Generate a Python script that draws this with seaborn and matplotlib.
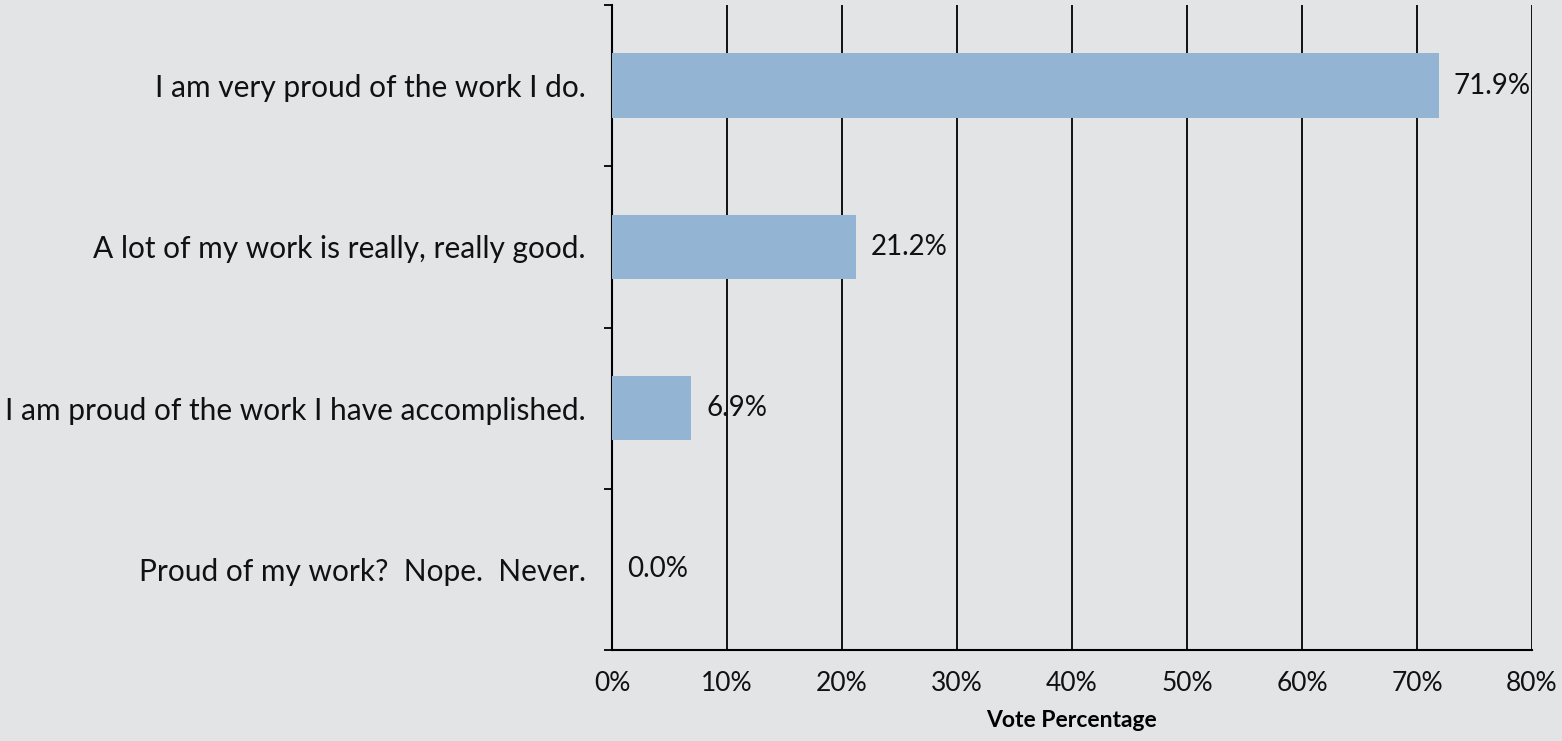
import matplotlib
matplotlib.use("Agg")
import matplotlib.pyplot as plt
import seaborn as sns
import pandas as pd
from matplotlib.ticker import FixedLocator, FuncFormatter

categories = [
    "I am very proud of the work I do.",
    "A lot of my work is really, really good.",
    "I am proud of the work I have accomplished.",
    "Proud of my work?  Nope.  Never.",
]
values = [71.9, 21.2, 6.9, 0.0]
value_labels = ["71.9%", "21.2%", "6.9%", "0.0%"]
x_ticks = [0, 10, 20, 30, 40, 50, 60, 70, 80]
x_label = "Vote Percentage"

df = pd.DataFrame({"category": categories, "value": values})

sns.set_theme(style="white")
plt.rcParams["font.family"] = ["Lato", "DejaVu Sans"]

bg = "#e3e4e6"
fig = plt.figure(figsize=(15.62, 7.41), dpi=100, facecolor=bg)
ax = fig.add_axes([612 / 1562, (741 - 650) / 741, 920 / 1562, 645 / 741])
ax.set_facecolor(bg)

sns.barplot(data=df, x="value", y="category", orient="h", color="#93b5d3",
            saturation=1, width=0.4, ax=ax, zorder=3, edgecolor="none")

ax.set_xlim(0, 80)
ax.set_ylim(3.5, -0.5)
ax.xaxis.set_major_locator(FixedLocator(x_ticks))
ax.xaxis.set_major_formatter(FuncFormatter(lambda v, p: f"{v:.0f}%"))
ax.grid(axis="x", color="black", linewidth=1.3, zorder=1)
ax.set_axisbelow(True)
for s in ["top", "right"]:
    ax.spines[s].set_visible(False)
for s in ["left", "bottom"]:
    ax.spines[s].set_color("black")
    ax.spines[s].set_linewidth(1.5)

ax.tick_params(axis="x", which="major", direction="out", length=6, width=1.3,
               color="black", labelsize=19, labelcolor="#111111", pad=9)
ax.tick_params(axis="y", which="major", length=0, labelsize=21.5, labelcolor="#111111", pad=19)
ax.yaxis.set_minor_locator(FixedLocator([-0.5, 0.5, 1.5, 2.5, 3.5]))
ax.tick_params(axis="y", which="minor", direction="out", length=6, width=1.3, color="black", left=True)

ax.set_ylabel("")
ax.set_xlabel(x_label, fontsize=16.5, fontweight="bold", color="black", labelpad=10)

for i, (v, lab) in enumerate(zip(values, value_labels)):
    ax.annotate(lab, xy=(v, i), xytext=(15, 0), textcoords="offset pixels",
                ha="left", va="center", fontsize=20, color="#111111", zorder=5)

fig.savefig("out.png", dpi=100, facecolor=bg)
